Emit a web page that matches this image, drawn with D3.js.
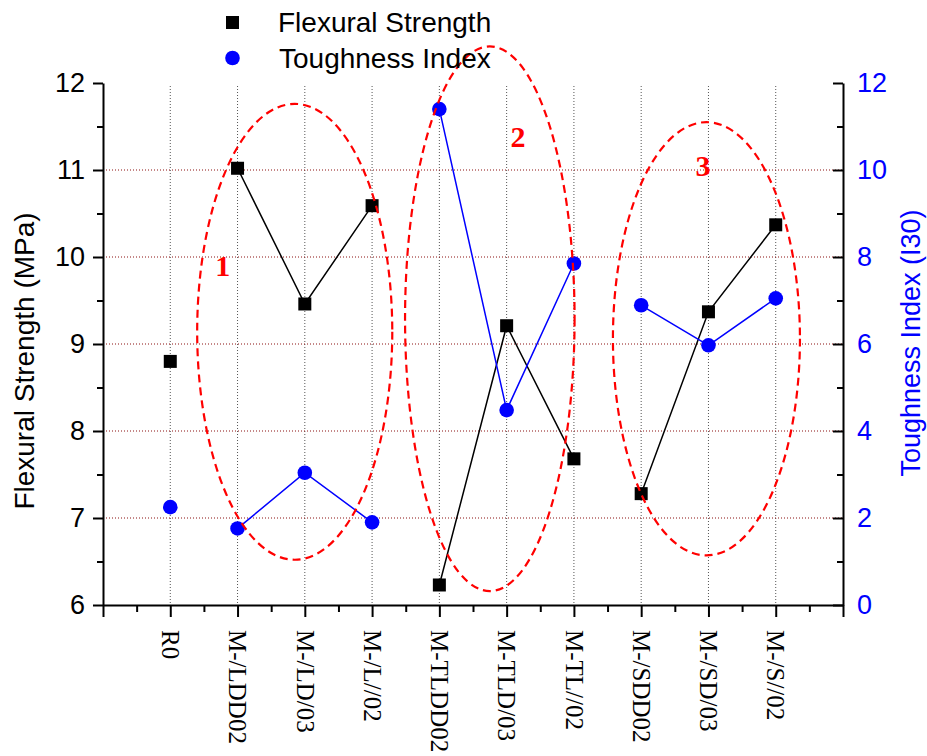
<!DOCTYPE html>
<html>
<head>
<meta charset="utf-8" />
<title>Flexural Strength and Toughness Index</title>
<script src="https://cdn.jsdelivr.net/npm/d3@7"></script>
<style>
  body { margin: 0; background: #fff; }
  svg { display: block; }
</style>
</head>
<body>
<svg id="chart" width="927" height="756"></svg>
<script>
// categories along the bottom axis (positions 1..10)
const categories = ["R0", "M-/LDD02", "M-/LD/03", "M-/L//02", "M-TLDD02", "M-TLD/03",
  "M-TL//02", "M-/SDD02", "M-/SD/03", "M-/S//02"];
// flexural strength, MPa (left axis)
const flexural = [8.80, 11.02, 9.46, 10.59, 6.23, 9.21, 7.68, 7.28, 9.37, 10.37];
// toughness index I30 (right axis)
const toughness = [2.25, 1.76, 3.04, 1.90, 11.40, 4.48, 7.85, 6.89, 5.97, 7.05];
// which points are joined by a line
const groups = [[1, 2, 3], [4, 5, 6], [7, 8, 9]];
// dashed ellipses: centre/radii in category and left-axis units
const ellipses = [
  { label: "1", cx: 2.85, cy: 9.14, rx: 1.45, ry: 2.62, lx: 1.78, ly: 9.9 },
  { label: "2", cx: 5.75, cy: 9.29, rx: 1.26, ry: 3.13, lx: 6.17, ly: 11.39 },
  { label: "3", cx: 8.97, cy: 9.06, rx: 1.39, ry: 2.49, lx: 8.92, ly: 11.05 }
];
const leftTicks = [6, 7, 8, 9, 10, 11, 12];
const rightTicks = [0, 2, 4, 6, 8, 10, 12];

const svg = d3.select("#chart");
const sans = "'Liberation Sans', Arial, sans-serif";
const serif = "'Liberation Serif', 'Times New Roman', serif";

const x = d3.scaleLinear().domain([0, 11]).range([103, 843]);
const yL = d3.scaleLinear().domain([6, 12]).range([605, 83]);
const yR = d3.scaleLinear().domain([0, 12]).range([605, 83]);

// grid
const grid = svg.append("g");
grid.selectAll(".vg").data(d3.range(1, 11)).join("line")
  .attr("x1", d => x(d)).attr("x2", d => x(d))
  .attr("y1", yL(12) + 3).attr("y2", yL(6))
  .attr("stroke", "#555").attr("stroke-width", 1).attr("stroke-dasharray", "1,2");
grid.selectAll(".hg").data([7, 8, 9, 10, 11]).join("line")
  .attr("x1", x(0)).attr("x2", x(11))
  .attr("y1", d => yL(d)).attr("y2", d => yL(d))
  .attr("stroke", "#8b1010").attr("stroke-width", 1).attr("stroke-dasharray", "1,2");

// lines
const lineF = d3.line().x(i => x(i + 1)).y(i => yL(flexural[i]));
const lineT = d3.line().x(i => x(i + 1)).y(i => yR(toughness[i]));
groups.forEach(g => {
  svg.append("path").attr("d", lineF(g)).attr("fill", "none")
    .attr("stroke", "#000").attr("stroke-width", 1.5);
  svg.append("path").attr("d", lineT(g)).attr("fill", "none")
    .attr("stroke", "#0000ff").attr("stroke-width", 1.5);
});

// markers
svg.selectAll(".sq").data(flexural).join("rect")
  .attr("x", (d, i) => x(i + 1) - 6.5).attr("y", d => yL(d) - 6.5)
  .attr("width", 13).attr("height", 13).attr("fill", "#000");
svg.selectAll(".ci").data(toughness).join("circle")
  .attr("cx", (d, i) => x(i + 1)).attr("cy", d => yR(d))
  .attr("r", 7.3).attr("fill", "#0000ff");

// ellipses
const kx = x(1) - x(0), ky = yL(6) - yL(7);
svg.selectAll(".el").data(ellipses).join("ellipse")
  .attr("cx", d => x(d.cx)).attr("cy", d => yL(d.cy))
  .attr("rx", d => d.rx * kx).attr("ry", d => d.ry * ky)
  .attr("fill", "none").attr("stroke", "#ff0000").attr("stroke-width", 2.2)
  .attr("stroke-dasharray", "8,5");
svg.selectAll(".elt").data(ellipses).join("text")
  .attr("x", d => x(d.lx)).attr("y", d => yL(d.ly)).attr("dy", "0.35em")
  .attr("text-anchor", "middle").attr("fill", "#ff0000")
  .style("font-family", serif).style("font-weight", "bold").style("font-size", "30px")
  .text(d => d.label);

// axes
function styleAxis(g) {
  g.selectAll("path, line").attr("stroke", "#000").attr("stroke-width", 2);
}
const bottom = svg.append("g").attr("transform", `translate(0,${yL(6)})`)
  .call(d3.axisBottom(x).tickValues(d3.range(0, 12)).tickSize(12).tickSizeOuter(0)
    .tickFormat(d => categories[d - 1] || ""));
bottom.call(styleAxis);
bottom.selectAll("text")
  .attr("transform", "rotate(90)").attr("x", 25).attr("y", 0).attr("dy", "0.35em")
  .attr("text-anchor", "start").attr("fill", "#000")
  .style("font-family", serif).style("font-size", "25px");
svg.append("g").attr("transform", `translate(0,${yL(6)})`)
  .call(d3.axisBottom(x).tickValues(d3.range(0.5, 11, 1)).tickSize(7).tickSizeOuter(0).tickFormat(""))
  .call(styleAxis).select(".domain").remove();

const left = svg.append("g").attr("transform", `translate(${x(0)},0)`)
  .call(d3.axisLeft(yL).tickValues(leftTicks).tickSize(10).tickSizeOuter(0).tickPadding(8)
    .tickFormat(d3.format("d")));
left.call(styleAxis);
left.selectAll("text").attr("fill", "#000").style("font-family", sans).style("font-size", "27px");
svg.append("g").attr("transform", `translate(${x(0)},0)`)
  .call(d3.axisLeft(yL).tickValues(d3.range(6.5, 12, 1)).tickSize(6).tickFormat(""))
  .call(styleAxis).select(".domain").remove();

const right = svg.append("g").attr("transform", `translate(${x(11)},0)`)
  .call(d3.axisRight(yR).tickValues(rightTicks).tickSize(-10).tickSizeOuter(0).tickPadding(14)
    .tickFormat(d3.format("d")));
right.call(styleAxis);
right.selectAll("text").attr("fill", "#0000ff").style("font-family", sans).style("font-size", "27px");
svg.append("g").attr("transform", `translate(${x(11)},0)`)
  .call(d3.axisRight(yR).tickValues(d3.range(1, 12, 2)).tickSize(-6).tickFormat(""))
  .call(styleAxis).select(".domain").remove();

// axis titles
svg.append("text").attr("transform", "translate(34,361) rotate(-90)")
  .attr("text-anchor", "middle").attr("fill", "#000")
  .style("font-family", sans).style("font-size", "28px").text("Flexural Strength (MPa)");
svg.append("text").attr("transform", "translate(920,343) rotate(-90)")
  .attr("text-anchor", "middle").attr("fill", "#0000ff")
  .style("font-family", sans).style("font-size", "27px").text("Toughness Index (I30)");

// legend
const legend = svg.append("g");
legend.append("rect").attr("x", 226).attr("y", 16).attr("width", 13).attr("height", 13).attr("fill", "#000");
legend.append("circle").attr("cx", 232.5).attr("cy", 58).attr("r", 7.3).attr("fill", "#0000ff");
legend.append("text").attr("x", 278).attr("y", 32).attr("fill", "#000")
  .style("font-family", sans).style("font-size", "28px").text("Flexural Strength");
legend.append("text").attr("x", 279).attr("y", 68).attr("fill", "#000")
  .style("font-family", sans).style("font-size", "28px").text("Toughness Index");
</script>
</body>
</html>
